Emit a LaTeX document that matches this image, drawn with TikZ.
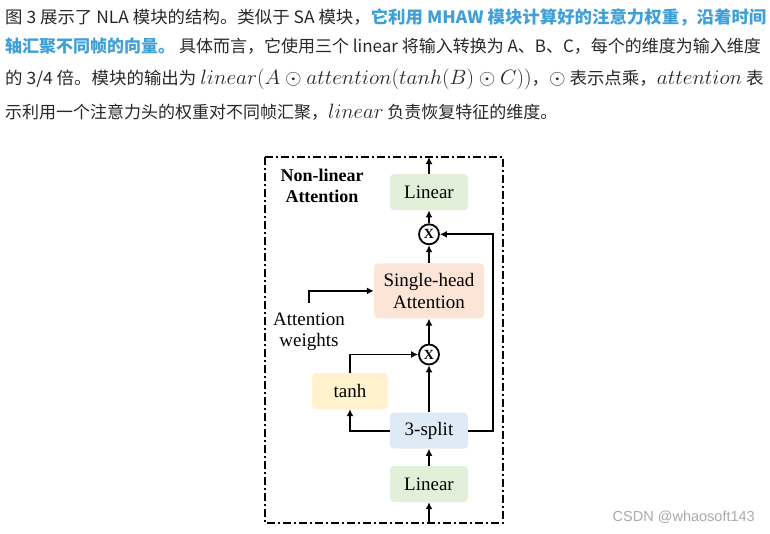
\documentclass[tikz,border=0pt]{standalone}
\usepackage{amsmath}
\usepackage{graphicx}
\usepackage{fontspec}
\setmainfont{Liberation Serif}
\newfontfamily\cjk{Noto Sans CJK SC}
\newfontfamily\wmfont{Liberation Sans}
\usepackage{xcolor}
\usetikzlibrary{arrows.meta, positioning}
\definecolor{lincolor}{RGB}{226,240,217}
\definecolor{attcolor}{RGB}{252,228,214}
\definecolor{tanhcolor}{RGB}{255,242,204}
\definecolor{splitcolor}{RGB}{222,235,247}
\definecolor{hlblue}{RGB}{62,160,214}
\definecolor{txtgray}{RGB}{40,40,40}
\definecolor{markgray}{RGB}{170,170,170}
\newcommand{\bigmath}[1]{{\fontsize{21}{22}\selectfont$#1$}}

\begin{document}
\begin{tikzpicture}[
    x=1pt, y=1pt,
    >={Latex[length=7pt, width=7pt]},
    box/.style={rounded corners=4pt, minimum width=78pt, minimum height=36pt, inner sep=2pt, font=\fontsize{19}{22}\selectfont, align=center},
    mul/.style={draw, circle, line width=1.8pt, minimum size=20pt, inner sep=0pt, font=\bfseries\fontsize{14}{14}\selectfont},
    flow/.style={->, line width=1.8pt},
    para/.style={anchor=west, inner sep=0pt, text=txtgray, font=\cjk\fontsize{17}{20}\selectfont},
]
    \useasboundingbox (0,0) rectangle (770,-533);

    % Text above the picture
    \node[para] (l1) at (5,-17) {\scalebox{1.025}[1]{图 3 展示了 NLA 模块的结构。类似于 SA 模块，{\bfseries\color{hlblue}它利用 MHAW 模块计算好的注意力权重，沿着时间}}};
    \node[para] (l2) at (5,-46) {{\bfseries\color{hlblue}轴汇聚不同帧的向量。} 具体而言，它使用三个 linear 将输入转换为 A、B、C，每个的维度为输入维度};
    \node[para] (l3) at (5,-79) {\scalebox{1.027}[1]{的 3/4 倍。模块的输出为 \bigmath{linear(A\odot attention(tanh(B)\odot C))}，\bigmath{\odot} 表示点乘，\bigmath{attention} 表}};
    \node[para] (l4) at (5,-112) {示利用一个注意力头的权重对不同帧汇聚，\bigmath{linear} 负责恢复特征的维度。};

    % Frame
    \coordinate (fnw) at (265,-157);
    \coordinate (fse) at (503,-523);
    \draw[line width=2pt, dash pattern=on 8pt off 3pt on 2pt off 3pt] (fnw) rectangle (fse);
    \node[align=center, font=\bfseries\fontsize{18}{21}\selectfont] (title) at (322,-186) {Non-linear\\Attention};

    % Boxes
    \node[box, fill=lincolor] (lin1) at (429,-484) {Linear};
    \node[box, fill=splitcolor, above=17pt of lin1] (split) {3-split};
    \node[mul, above=47pt of split] (mul2) {X};
    \node[box, fill=attcolor, minimum width=110pt, minimum height=55pt, above=25pt of mul2] (sha) {Single-head\\Attention};
    \node[mul, above=18pt of sha] (mul1) {X};
    \node[box, fill=lincolor, above=13pt of mul1] (lin2) {Linear};
    \node[box, fill=tanhcolor, minimum width=76pt] (tanh) at (350,-391) {tanh};
    \node[align=center, font=\fontsize{19}{21}\selectfont, inner sep=0pt] (aw) at (309,-332) {Attention\\weights};

    % Arrows
    \draw[flow] (lin1.south |- fse) -- (lin1);
    \draw[flow] (lin1) -- (split);
    \draw[flow] (split) -- (mul2);
    \draw[flow] (split.west) -| (tanh.south);
    \draw[flow] (tanh.north) |- (mul2.west);
    \draw[flow] (mul2) -- (sha);
    \draw[flow] ([yshift=10pt]aw.north) |- (sha.west);
    \draw[flow] (sha) -- (mul1);
    \draw[flow] (split.east) -- ++(25pt,0) |- (mul1.east);
    \draw[flow] (mul1) -- (lin2);
    \draw[flow] (lin2) -- (lin2.north |- fnw);

    % Watermark
    \node[anchor=east, inner sep=0pt, text=markgray, font=\wmfont\fontsize{14.5}{16}\selectfont] (mark) at (755,-517) {CSDN @whaosoft143};
\end{tikzpicture}
\end{document}
